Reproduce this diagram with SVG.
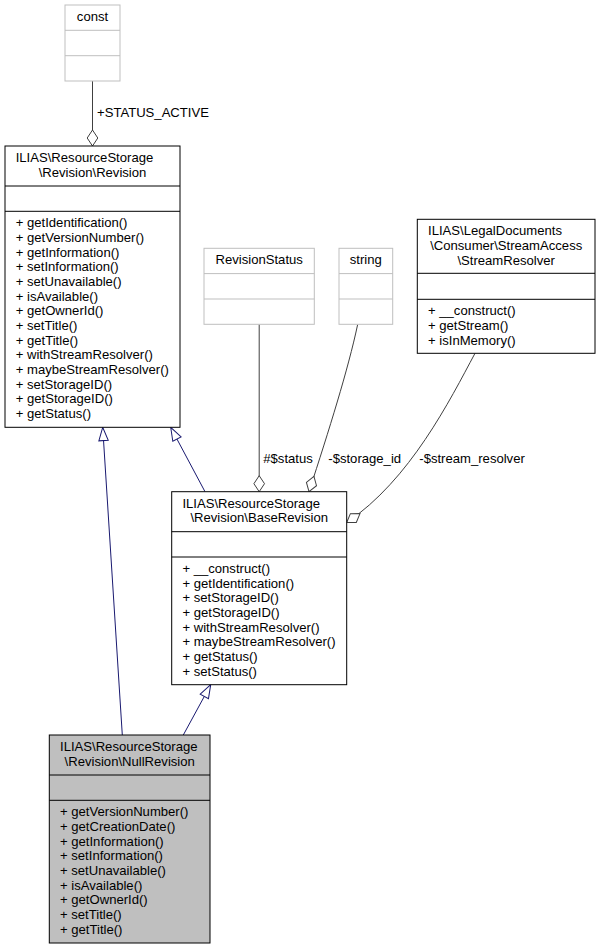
<svg xmlns="http://www.w3.org/2000/svg" width="599" height="949" viewBox="0 0 599 949">
<style>
text{font-family:"Liberation Sans",Arial,Helvetica,sans-serif;font-size:13.1px;fill:#000}
.mid{text-anchor:middle}
.box{fill:#fff;stroke:#000;stroke-width:1}
.grey{fill:#fff;stroke:#bfbfbf;stroke-width:1}
.hl{fill:#bfbfbf;stroke:#000;stroke-width:1}
.sep{stroke:#000;stroke-width:1}
.gsep{stroke:#bfbfbf;stroke-width:1}
.inh{fill:none;stroke:#191970;stroke-width:1;marker-end:url(#tri)}
.use{fill:none;stroke:#404040;stroke-width:1;marker-end:url(#dia)}
</style>
<defs>
<marker id="tri" markerUnits="userSpaceOnUse" orient="auto" overflow="visible" refX="0" refY="0" markerWidth="1" markerHeight="1">
<path d="M0,0 L-13.3,-4.7 L-13.3,4.7 Z" fill="#fff" stroke="#191970" stroke-width="1"/>
</marker>
<marker id="dia" markerUnits="userSpaceOnUse" orient="auto" overflow="visible" refX="0" refY="0" markerWidth="1" markerHeight="1">
<path d="M0,0 L-8,-5.3 L-16,0 L-8,5.3 Z" fill="#fff" stroke="#404040" stroke-width="1"/>
</marker>
</defs>
<rect width="599" height="949" fill="#fff"/>
<g id="connectors">
<path class="inh" d="M122.3,735 L102.7,427.3"/>
<path class="inh" d="M205,491.7 L170.7,427.3"/>
<path class="inh" d="M183.3,735 L210.7,684.7"/>
<path class="use" d="M92.5,81 L92.5,146"/>
<text x="97" y="116.5">+STATUS_ACTIVE</text>
<path class="use" d="M259.2,324.3 L259.2,491.7"/>
<text x="263.3" y="462.7">#$status</text>
<path class="use" d="M357.7,324.3 C348,370 329,430 309,491.7"/>
<text x="328.3" y="462.7">-$storage_id</text>
<path class="use" d="M475,353.3 C450,400 410,480 346.7,522.5"/>
<text x="419.3" y="462.7">-$stream_resolver</text>
</g>
<g id="const">
<rect class="grey" x="65" y="5" width="55" height="76"/>
<line class="gsep" x1="65" y1="30.3" x2="120" y2="30.3"/>
<line class="gsep" x1="65" y1="55.7" x2="120" y2="55.7"/>
<text class="mid" x="92.5" y="21">const</text>
</g>
<g id="Revision">
<rect class="box" x="5" y="146" width="175" height="281.3"/>
<line class="sep" x1="5" y1="186" x2="180" y2="186"/>
<line class="sep" x1="5" y1="211.3" x2="180" y2="211.3"/>
<text x="15.7" y="162">ILIAS\ResourceStorage</text>
<text class="mid" x="92.5" y="176.7">\Revision\Revision</text>
<text x="15.7" y="227.3">+ getIdentification()<tspan x="15.7" dy="14.67">+ getVersionNumber()</tspan><tspan x="15.7" dy="14.67">+ getInformation()</tspan><tspan x="15.7" dy="14.67">+ setInformation()</tspan><tspan x="15.7" dy="14.67">+ setUnavailable()</tspan><tspan x="15.7" dy="14.67">+ isAvailable()</tspan><tspan x="15.7" dy="14.67">+ getOwnerId()</tspan><tspan x="15.7" dy="14.67">+ setTitle()</tspan><tspan x="15.7" dy="14.67">+ getTitle()</tspan><tspan x="15.7" dy="14.67">+ withStreamResolver()</tspan><tspan x="15.7" dy="14.67">+ maybeStreamResolver()</tspan><tspan x="15.7" dy="14.67">+ setStorageID()</tspan><tspan x="15.7" dy="14.67">+ getStorageID()</tspan><tspan x="15.7" dy="14.67">+ getStatus()</tspan></text>
</g>
<g id="RevisionStatus">
<rect class="grey" x="204" y="248.3" width="110.3" height="76"/>
<line class="gsep" x1="204" y1="273.6" x2="314.3" y2="273.6"/>
<line class="gsep" x1="204" y1="299" x2="314.3" y2="299"/>
<text class="mid" x="259.2" y="264.3">RevisionStatus</text>
</g>
<g id="string">
<rect class="grey" x="339" y="248.3" width="53.7" height="76"/>
<line class="gsep" x1="339" y1="273.6" x2="392.7" y2="273.6"/>
<line class="gsep" x1="339" y1="299" x2="392.7" y2="299"/>
<text class="mid" x="365.8" y="264.3">string</text>
</g>
<g id="StreamResolver">
<rect class="box" x="417.3" y="219.3" width="177.7" height="134"/>
<line class="sep" x1="417.3" y1="273.3" x2="595" y2="273.3"/>
<line class="sep" x1="417.3" y1="299.3" x2="595" y2="299.3"/>
<text x="428" y="235.3">ILIAS\LegalDocuments</text>
<text class="mid" x="506.2" y="250">\Consumer\StreamAccess</text>
<text class="mid" x="506.2" y="264.7">\StreamResolver</text>
<text x="428" y="315.3">+ __construct()<tspan x="428" dy="14.67">+ getStream()</tspan><tspan x="428" dy="14.67">+ isInMemory()</tspan></text>
</g>
<g id="BaseRevision">
<rect class="box" x="171.7" y="491.7" width="175" height="193"/>
<line class="sep" x1="171.7" y1="531.7" x2="346.7" y2="531.7"/>
<line class="sep" x1="171.7" y1="557" x2="346.7" y2="557"/>
<text x="182.4" y="507.7">ILIAS\ResourceStorage</text>
<text class="mid" x="259.2" y="522.3">\Revision\BaseRevision</text>
<text x="182.4" y="573">+ __construct()<tspan x="182.4" dy="14.67">+ getIdentification()</tspan><tspan x="182.4" dy="14.67">+ setStorageID()</tspan><tspan x="182.4" dy="14.67">+ getStorageID()</tspan><tspan x="182.4" dy="14.67">+ withStreamResolver()</tspan><tspan x="182.4" dy="14.67">+ maybeStreamResolver()</tspan><tspan x="182.4" dy="14.67">+ getStatus()</tspan><tspan x="182.4" dy="14.67">+ setStatus()</tspan></text>
</g>
<g id="NullRevision">
<rect class="hl" x="49.3" y="735" width="160.7" height="208"/>
<line class="sep" x1="49.3" y1="775" x2="210" y2="775"/>
<line class="sep" x1="49.3" y1="800.3" x2="210" y2="800.3"/>
<text x="60" y="751">ILIAS\ResourceStorage</text>
<text class="mid" x="129.7" y="765.7">\Revision\NullRevision</text>
<text x="60" y="816.3">+ getVersionNumber()<tspan x="60" dy="14.67">+ getCreationDate()</tspan><tspan x="60" dy="14.67">+ getInformation()</tspan><tspan x="60" dy="14.67">+ setInformation()</tspan><tspan x="60" dy="14.67">+ setUnavailable()</tspan><tspan x="60" dy="14.67">+ isAvailable()</tspan><tspan x="60" dy="14.67">+ getOwnerId()</tspan><tspan x="60" dy="14.67">+ setTitle()</tspan><tspan x="60" dy="14.67">+ getTitle()</tspan></text>
</g>
</svg>
